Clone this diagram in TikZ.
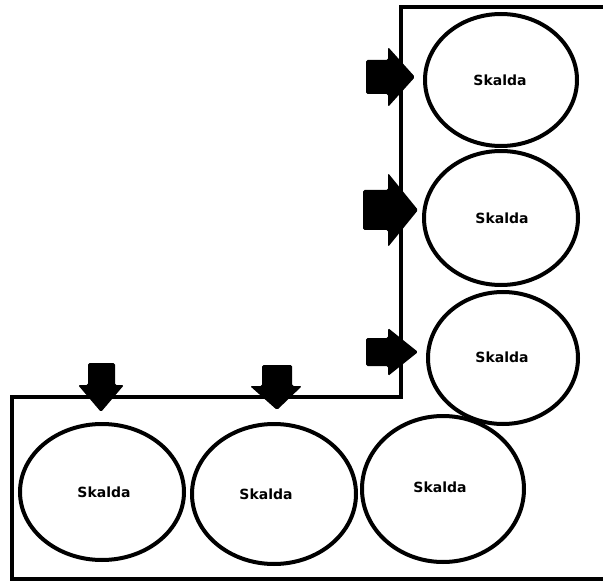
\documentclass[tikz,border=0pt]{standalone}
\usepackage{fontspec}
\setmainfont{DejaVu Sans}
\usetikzlibrary{shapes.geometric}
\begin{document}
\begin{tikzpicture}[x=1pt,y=-1pt,
  ring/.style={draw, ellipse, line width=4pt, inner sep=0pt},
  lbl/.style={font=\bfseries\fontsize{14}{16}\selectfont, inner sep=0pt},
  blockarrow/.style={fill=black, rounded corners=1.5pt},
  frame/.style={draw, line width=4pt}]
\fill[white] (0,0) rectangle (603,583);
\useasboundingbox (0,0) rectangle (603,583);
% frame
\draw[frame] (603,7) -- (401,7) -- (401,397) -- (12,397) -- (12,579) -- (603,579);
% ellipses
\node[ring, minimum width=152pt, minimum height=132pt] (c1) at (501,80) {};
\node[ring, minimum width=154pt, minimum height=134pt] (c2) at (501,218) {};
\node[ring, minimum width=150pt, minimum height=132pt] (c3) at (503,358) {};
\node[ring, minimum width=164pt, minimum height=136pt] (c4) at (102,492) {};
\node[ring, minimum width=164pt, minimum height=140pt] (c5) at (274,494) {};
\node[ring, minimum width=162pt, minimum height=146pt] (c6) at (443,489) {};
% labels
\node[lbl] (t1) at (500,80) {Skalda};
\node[lbl] (t2) at (502,218) {Skalda};
\node[lbl] (t3) at (502,357) {Skalda};
\node[lbl] (t4) at (104,492) {Skalda};
\node[lbl] (t5) at (266,494) {Skalda};
\node[lbl] (t6) at (440,487) {Skalda};
% right block arrows
\fill[blockarrow] (366,60) -- (388,60) -- (388,47) -- (415,77) -- (388,107) -- (388,94) -- (366,94) -- cycle;
\fill[blockarrow] (363,190) -- (388,190) -- (388,173) -- (418,210) -- (388,247) -- (388,230) -- (363,230) -- cycle;
\fill[blockarrow] (366,338) -- (388,338) -- (388,328) -- (418,352) -- (388,376) -- (388,366) -- (366,366) -- cycle;
% down block arrows
\fill[blockarrow] (88,363) -- (88,385) -- (78,385) -- (101,412) -- (124,385) -- (115,385) -- (115,363) -- cycle;
\fill[blockarrow] (262,365) -- (262,386) -- (250,386) -- (277,410) -- (302,386) -- (292,386) -- (292,365) -- cycle;
\end{tikzpicture}
\end{document}
